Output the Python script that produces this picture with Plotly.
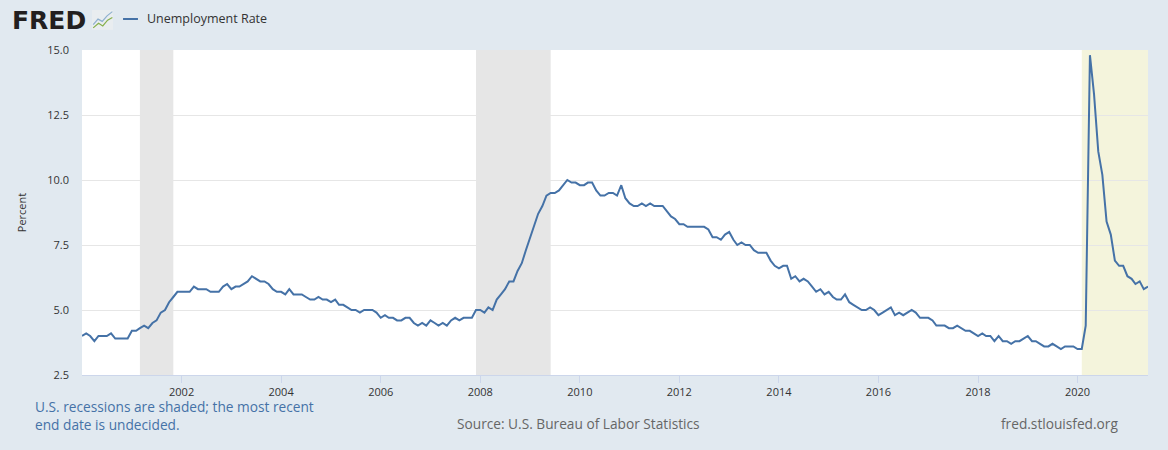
import pandas as pd
from plotly import graph_objects as go

# monthly unemployment rate, Jan 2000 .. Jun 2021 (percent)
rate_2000_2004 = [4.0, 4.1, 4.0, 3.8, 4.0, 4.0, 4.0, 4.1, 3.9, 3.9, 3.9, 3.9,
                  4.2, 4.2, 4.3, 4.4, 4.3, 4.5, 4.6, 4.9, 5.0, 5.3, 5.5, 5.7,
                  5.7, 5.7, 5.7, 5.9, 5.8, 5.8, 5.8, 5.7, 5.7, 5.7, 5.9, 6.0,
                  5.8, 5.9, 5.9, 6.0, 6.1, 6.3, 6.2, 6.1, 6.1, 6.0, 5.8, 5.7,
                  5.7, 5.6, 5.8, 5.6, 5.6, 5.6, 5.5, 5.4, 5.4, 5.5, 5.4, 5.4]
rate_2005_2009 = [5.3, 5.4, 5.2, 5.2, 5.1, 5.0, 5.0, 4.9, 5.0, 5.0, 5.0, 4.9,
                  4.7, 4.8, 4.7, 4.7, 4.6, 4.6, 4.7, 4.7, 4.5, 4.4, 4.5, 4.4,
                  4.6, 4.5, 4.4, 4.5, 4.4, 4.6, 4.7, 4.6, 4.7, 4.7, 4.7, 5.0,
                  5.0, 4.9, 5.1, 5.0, 5.4, 5.6, 5.8, 6.1, 6.1, 6.5, 6.8, 7.3,
                  7.8, 8.3, 8.7, 9.0, 9.4, 9.5, 9.5, 9.6, 9.8, 10.0, 9.9, 9.9]
rate_2010_2014 = [9.8, 9.8, 9.9, 9.9, 9.6, 9.4, 9.4, 9.5, 9.5, 9.4, 9.8, 9.3,
                  9.1, 9.0, 9.0, 9.1, 9.0, 9.1, 9.0, 9.0, 9.0, 8.8, 8.6, 8.5,
                  8.3, 8.3, 8.2, 8.2, 8.2, 8.2, 8.2, 8.1, 7.8, 7.8, 7.7, 7.9,
                  8.0, 7.7, 7.5, 7.6, 7.5, 7.5, 7.3, 7.2, 7.2, 7.2, 6.9, 6.7,
                  6.6, 6.7, 6.7, 6.2, 6.3, 6.1, 6.2, 6.1, 5.9, 5.7, 5.8, 5.6]
rate_2015_2019 = [5.7, 5.5, 5.4, 5.4, 5.6, 5.3, 5.2, 5.1, 5.0, 5.0, 5.1, 5.0,
                  4.8, 4.9, 5.0, 5.1, 4.8, 4.9, 4.8, 4.9, 5.0, 4.9, 4.7, 4.7,
                  4.7, 4.6, 4.4, 4.4, 4.4, 4.3, 4.3, 4.4, 4.3, 4.2, 4.2, 4.1,
                  4.0, 4.1, 4.0, 4.0, 3.8, 4.0, 3.8, 3.8, 3.7, 3.8, 3.8, 3.9,
                  4.0, 3.8, 3.8, 3.7, 3.6, 3.6, 3.7, 3.6, 3.5, 3.6, 3.6, 3.6]
rate_2020_2021 = [3.5, 3.5, 4.4, 14.8, 13.3, 11.1, 10.2, 8.4, 7.9, 6.9, 6.7, 6.7,
                  6.3, 6.2, 6.0, 6.1, 5.8, 5.9]

rate = rate_2000_2004 + rate_2005_2009 + rate_2010_2014 + rate_2015_2019 + rate_2020_2021
dates = pd.date_range("2000-01-01", periods=len(rate), freq="MS")

# recessions (start, end); the last one has no end date yet
recessions = [("2001-03-01", "2001-11-01"), ("2007-12-01", "2009-06-01"), ("2020-02-01", "2021-06-01")]
recession_colors = ["#e6e6e6", "#e6e6e6", "#f4f4dc"]

x_ticks = [f"{y}-01-01" for y in range(2002, 2021, 2)]
x_labels = [str(y) for y in range(2002, 2021, 2)]
y_ticks = [2.5, 5.0, 7.5, 10.0, 12.5, 15.0]

BG = "#e1e9f0"
LINE = "#4572a7"

fig = go.Figure()
fig.add_trace(go.Scatter(x=dates, y=rate, mode="lines", name="Unemployment Rate",
                         line=dict(color=LINE, width=2), showlegend=False))

for (start, end), col in zip(recessions, recession_colors):
    fig.add_shape(type="rect", xref="x", yref="paper", x0=start, x1=end, y0=0, y1=1,
                  fillcolor=col, line_width=0, layer="below")

# FRED logo
fig.add_annotation(text="<b>FRED</b>", xref="paper", yref="paper", x=-0.068, y=1.090,
                   xanchor="left", yanchor="middle", showarrow=False,
                   font=dict(family="DejaVu Sans", size=25, color="#231f20"))
fig.add_shape(type="rect", xref="paper", yref="paper", x0=0.0094, x1=0.0291, y0=1.062, y1=1.123,
              fillcolor="#e9edf0", line_width=0)
fig.add_shape(type="path", xref="paper", yref="paper",
              path="M 0.0105 1.078 L 0.0150 1.095 L 0.0190 1.088 L 0.0235 1.105 L 0.0285 1.118",
              line=dict(color="#8fb0cf", width=1.2))
fig.add_shape(type="path", xref="paper", yref="paper",
              path="M 0.0105 1.068 L 0.0155 1.082 L 0.0195 1.074 L 0.0240 1.092 L 0.0285 1.100",
              line=dict(color="#86b04a", width=1.2))

# legend entry
fig.add_shape(type="line", xref="paper", yref="paper", x0=0.0385, x1=0.0525, y0=1.0954, y1=1.0954,
              line=dict(color=LINE, width=2))
fig.add_annotation(text="Unemployment Rate", xref="paper", yref="paper", x=0.0591, y=1.0954,
                   xanchor="left", yanchor="middle", showarrow=False,
                   font=dict(size=12.5, color="#333333"))

# footer notes
fig.add_annotation(text="U.S. recessions are shaded; the most recent<br>end date is undecided.",
                   xref="paper", yref="paper", x=-0.046, y=-0.126, xanchor="left", yanchor="middle",
                   align="left", showarrow=False, font=dict(size=13.7, color=LINE))
fig.add_annotation(text="Source: U.S. Bureau of Labor Statistics", xref="paper", yref="paper",
                   x=0.466, y=-0.1477, xanchor="center", yanchor="middle", showarrow=False,
                   font=dict(size=13.7, color="#666666"))
fig.add_annotation(text="fred.stlouisfed.org", xref="paper", yref="paper",
                   x=0.9737, y=-0.1477, xanchor="right", yanchor="middle", showarrow=False,
                   font=dict(size=13.7, color="#666666"))

fig.update_layout(
    width=1168, height=450,
    margin=dict(l=82, r=20, t=50, b=75, autoexpand=False),
    paper_bgcolor=BG, plot_bgcolor="white",
    font=dict(family="Open Sans", color="#333333"),
    showlegend=False,
    xaxis=dict(range=["2000-01-01", "2021-06-01"], tickvals=x_ticks, ticktext=x_labels,
               showgrid=False, ticks="outside", ticklen=7, tickcolor="#ccd6eb",
               showline=True, linecolor="#ccd6eb", linewidth=1,
               tickfont=dict(size=11, color="#333333"), zeroline=False),
    yaxis=dict(range=[2.5, 15.0], tickvals=y_ticks, tickformat=".1f",
               showgrid=True, gridcolor="#e6e6e6", zeroline=False,
               ticklabelstandoff=12, tickfont=dict(size=11, color="#333333"),
               title=dict(text="Percent", font=dict(size=11, color="#333333"), standoff=18)),
)

fig.write_html("out.html", config={"displayModeBar": False},
               post_script="document.body.style.margin='0';")
